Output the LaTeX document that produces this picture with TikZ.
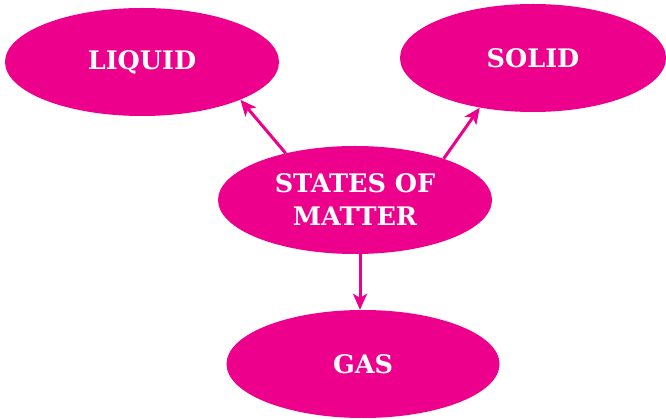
\documentclass[tikz,border=0pt]{standalone}
\usepackage{fontspec}
\setmainfont{DejaVu Serif}
\usetikzlibrary{arrows.meta,shapes.geometric}
\definecolor{mag}{HTML}{EC008C}
\begin{document}
\begin{tikzpicture}[x=1pt,y=-1pt,
  blob/.style={ellipse,fill=mag,draw=none,inner sep=0pt,minimum width=#1,minimum height=108,text=white,font=\fontsize{25.5}{33}\selectfont\bfseries,align=center},
  conn/.style={draw=mag,line width=3pt,-{Stealth[length=16pt,width=14pt,inset=4pt]}}]
\useasboundingbox (0,0) rectangle (666,419);
\node[blob=274] (liquid) at (142,62) {LIQUID};
\node[blob=266] (solid) at (533,58) {SOLID};
\node[blob=274] (states) at (355,200) {STATES OF\\MATTER};
\node[blob=273] (gas) at (363,364) {GAS};
\draw[conn] (states.146) -- (liquid.-21);
\draw[conn] (states.25) -- (solid.-137);
\draw[conn] ([xshift=5]states.south) -- ([xshift=-3]gas.north);
\end{tikzpicture}
\end{document}
